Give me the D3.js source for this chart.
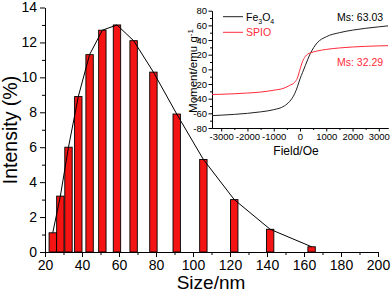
<!DOCTYPE html>
<html><head><meta charset="utf-8">
<script src="https://cdn.jsdelivr.net/npm/d3@7"></script>
<style>
html,body{margin:0;padding:0;background:#fff;}
svg{display:block;font-family:"Liberation Sans",Arial,sans-serif;}
</style></head>
<body><svg id="c" width="391" height="292"></svg>
<script>
// ---- data ----
const sizes = [24.2, 28.3, 32.7, 38.0, 44.1, 51.0, 58.9, 67.9, 78.6, 91.2, 105.6, 122.3, 141.7, 164.1];
const intensity = [1.1, 3.2, 6.0, 8.9, 11.3, 12.7, 13.0, 12.1, 10.3, 7.9, 5.3, 3.0, 1.3, 0.3];
const xTicks = [20, 40, 60, 80, 100, 120, 140, 160, 180, 200];
const yTicks = [0, 2, 4, 6, 8, 10, 12, 14];

const field = [-3350, -3000, -2000, -1500, -1000, -600, -400, -200, -100, 0, 100, 200, 300, 400, 650, 1000, 1500, 2000, 2500, 3000, 3350];
const fe3o4 = [-63.2, -62.5, -60, -58, -55, -50, -44, -33, -24, -13, -4, 5, 14, 22, 36, 44.5, 50, 53.5, 56, 58, 59.3];
const spio  = [-34.3, -34, -32.3, -31, -28.5, -25.5, -22, -17.5, -12, 0, 11, 17.5, 21, 22.5, 25, 27.2, 29.2, 30.5, 31.4, 32, 32.3];
const insetXTicks = [-3000, -2000, -1000, 0, 1000, 2000, 3000];
const insetYTicks = [-80, -60, -40, -20, 0, 20, 40, 60, 80];
const msLabels = ["Ms: 63.03", "Ms: 32.29"];

const svg = d3.select("#c");
const RED = "#f51414";
const fmt = d => String(d);

// ---- main chart ----
const x = d3.scaleLinear().domain([20, 200]).range([45, 378]);
const y = d3.scaleLinear().domain([0, 14]).range([252, 7.5]);
const barW = x(24) - x(20);

const g = svg.append("g");
g.selectAll("rect.bar").data(sizes).enter().append("rect")
  .attr("class", "bar")
  .attr("x", (d) => x(d) - barW / 2)
  .attr("width", barW)
  .attr("y", (d, i) => y(intensity[i]))
  .attr("height", (d, i) => y(0) - y(intensity[i]))
  .attr("fill", RED).attr("stroke", "#000").attr("stroke-width", 0.9);

g.append("path")
  .datum(sizes.map((s, i) => [s, intensity[i]]))
  .attr("fill", "none").attr("stroke", "#000").attr("stroke-width", 1)
  .attr("d", d3.line().x(d => x(d[0])).y(d => y(d[1])));

function styleAxis(sel, fs) {
  sel.select(".domain").attr("stroke", "#000").attr("stroke-width", 1);
  sel.selectAll(".tick line").attr("stroke", "#000").attr("stroke-width", 1);
  sel.selectAll("text").attr("font-size", fs).attr("fill", "#000")
    .attr("font-family", '"Liberation Sans", Arial, sans-serif');
}
function noText(sel) { sel.selectAll(".tick text").remove(); }

// minor ticks
const xMinor = d3.range(30, 200, 20);
const yMinor = d3.range(1, 14, 2);
g.append("g").attr("transform", `translate(0,${y(0)})`)
  .call(d3.axisBottom(x).tickValues(xMinor).tickSize(3).tickSizeOuter(0))
  .call(noText).call(s => styleAxis(s, 14));
g.append("g").attr("transform", `translate(${x(20)},0)`)
  .call(d3.axisLeft(y).tickValues(yMinor).tickSize(3).tickSizeOuter(0))
  .call(noText).call(s => styleAxis(s, 14));

g.append("g").attr("transform", `translate(0,${y(0)})`)
  .call(d3.axisBottom(x).tickValues(xTicks).tickFormat(fmt).tickSize(5).tickPadding(3).tickSizeOuter(0))
  .call(s => styleAxis(s, 14));
g.append("g").attr("transform", `translate(${x(20)},0)`)
  .call(d3.axisLeft(y).tickValues(yTicks).tickFormat(fmt).tickSize(5).tickPadding(3).tickSizeOuter(0))
  .call(s => styleAxis(s, 14));

g.append("text").attr("x", 211).attr("y", 288.5).attr("text-anchor", "middle")
  .attr("font-size", 19).text("Size/nm");
g.append("text").attr("transform", "translate(16.5,130) rotate(-90)")
  .attr("text-anchor", "middle").attr("font-size", 19.5).text("Intensity (%)");

// ---- inset ----
const ix = d3.scaleLinear().domain([-3350, 3350]).range([212, 388]);
const iy = d3.scaleLinear().domain([-80, 80]).range([128, 10.7]);
const ig = svg.append("g");

ig.append("g").attr("transform", `translate(0,${iy(-80)})`)
  .call(d3.axisBottom(ix).tickValues(d3.range(-2500, 3350, 1000)).tickSize(2).tickSizeOuter(0))
  .call(noText).call(s => styleAxis(s, 9.5));
ig.append("g").attr("transform", `translate(${ix(-3350)},0)`)
  .call(d3.axisLeft(iy).tickValues(d3.range(-70, 80, 20)).tickSize(2).tickSizeOuter(0))
  .call(noText).call(s => styleAxis(s, 9.5));
ig.append("g").attr("transform", `translate(0,${iy(-80)})`)
  .call(d3.axisBottom(ix).tickValues(insetXTicks).tickFormat(fmt).tickSize(3.5).tickPadding(1.5).tickSizeOuter(0))
  .call(s => styleAxis(s, 9.5));
ig.append("g").attr("transform", `translate(${ix(-3350)},0)`)
  .call(d3.axisLeft(iy).tickValues(insetYTicks).tickFormat(fmt).tickSize(3.5).tickPadding(1.5).tickSizeOuter(0))
  .call(s => styleAxis(s, 9.5));

const iline = d3.line().x(d => ix(d[0])).y(d => iy(d[1])).curve(d3.curveMonotoneX);
ig.append("path").datum(field.map((f, i) => [f, fe3o4[i]]))
  .attr("fill", "none").attr("stroke", "#222").attr("stroke-width", 1).attr("d", iline);
ig.append("path").datum(field.map((f, i) => [f, spio[i]]))
  .attr("fill", "none").attr("stroke", "#ff2a3a").attr("stroke-width", 1).attr("d", iline);

ig.append("text").attr("x", 296).attr("y", 155).attr("text-anchor", "middle")
  .attr("font-size", 12).text("Field/Oe");
const yl = ig.append("text").attr("transform", "translate(197,71) rotate(-90)")
  .attr("text-anchor", "middle").attr("font-size", 11.5);
yl.append("tspan").text("Moment/emu g");
yl.append("tspan").attr("dy", -4).attr("font-size", 8).text("-1");

// legend
ig.append("line").attr("x1", 223).attr("x2", 243).attr("y1", 16.7).attr("y2", 16.7)
  .attr("stroke", "#222").attr("stroke-width", 1);
const fe = ig.append("text").attr("x", 246).attr("y", 20.5).attr("font-size", 10.5);
fe.append("tspan").text("Fe");
fe.append("tspan").attr("dy", 3).attr("font-size", 7).text("3");
fe.append("tspan").attr("dy", -3).text("O");
fe.append("tspan").attr("dy", 3).attr("font-size", 7).text("4");
ig.append("line").attr("x1", 223).attr("x2", 243).attr("y1", 32.3).attr("y2", 32.3)
  .attr("stroke", "#ff2a3a").attr("stroke-width", 1);
ig.append("text").attr("x", 246).attr("y", 36.2).attr("font-size", 10.5).attr("fill", "#ff2a3a").text("SPIO");

ig.append("text").attr("x", 337).attr("y", 20.5).attr("font-size", 10.5).text(msLabels[0]);
ig.append("text").attr("x", 337).attr("y", 65.5).attr("font-size", 10.5).attr("fill", "#ff2a3a").text(msLabels[1]);
</script></body></html>
